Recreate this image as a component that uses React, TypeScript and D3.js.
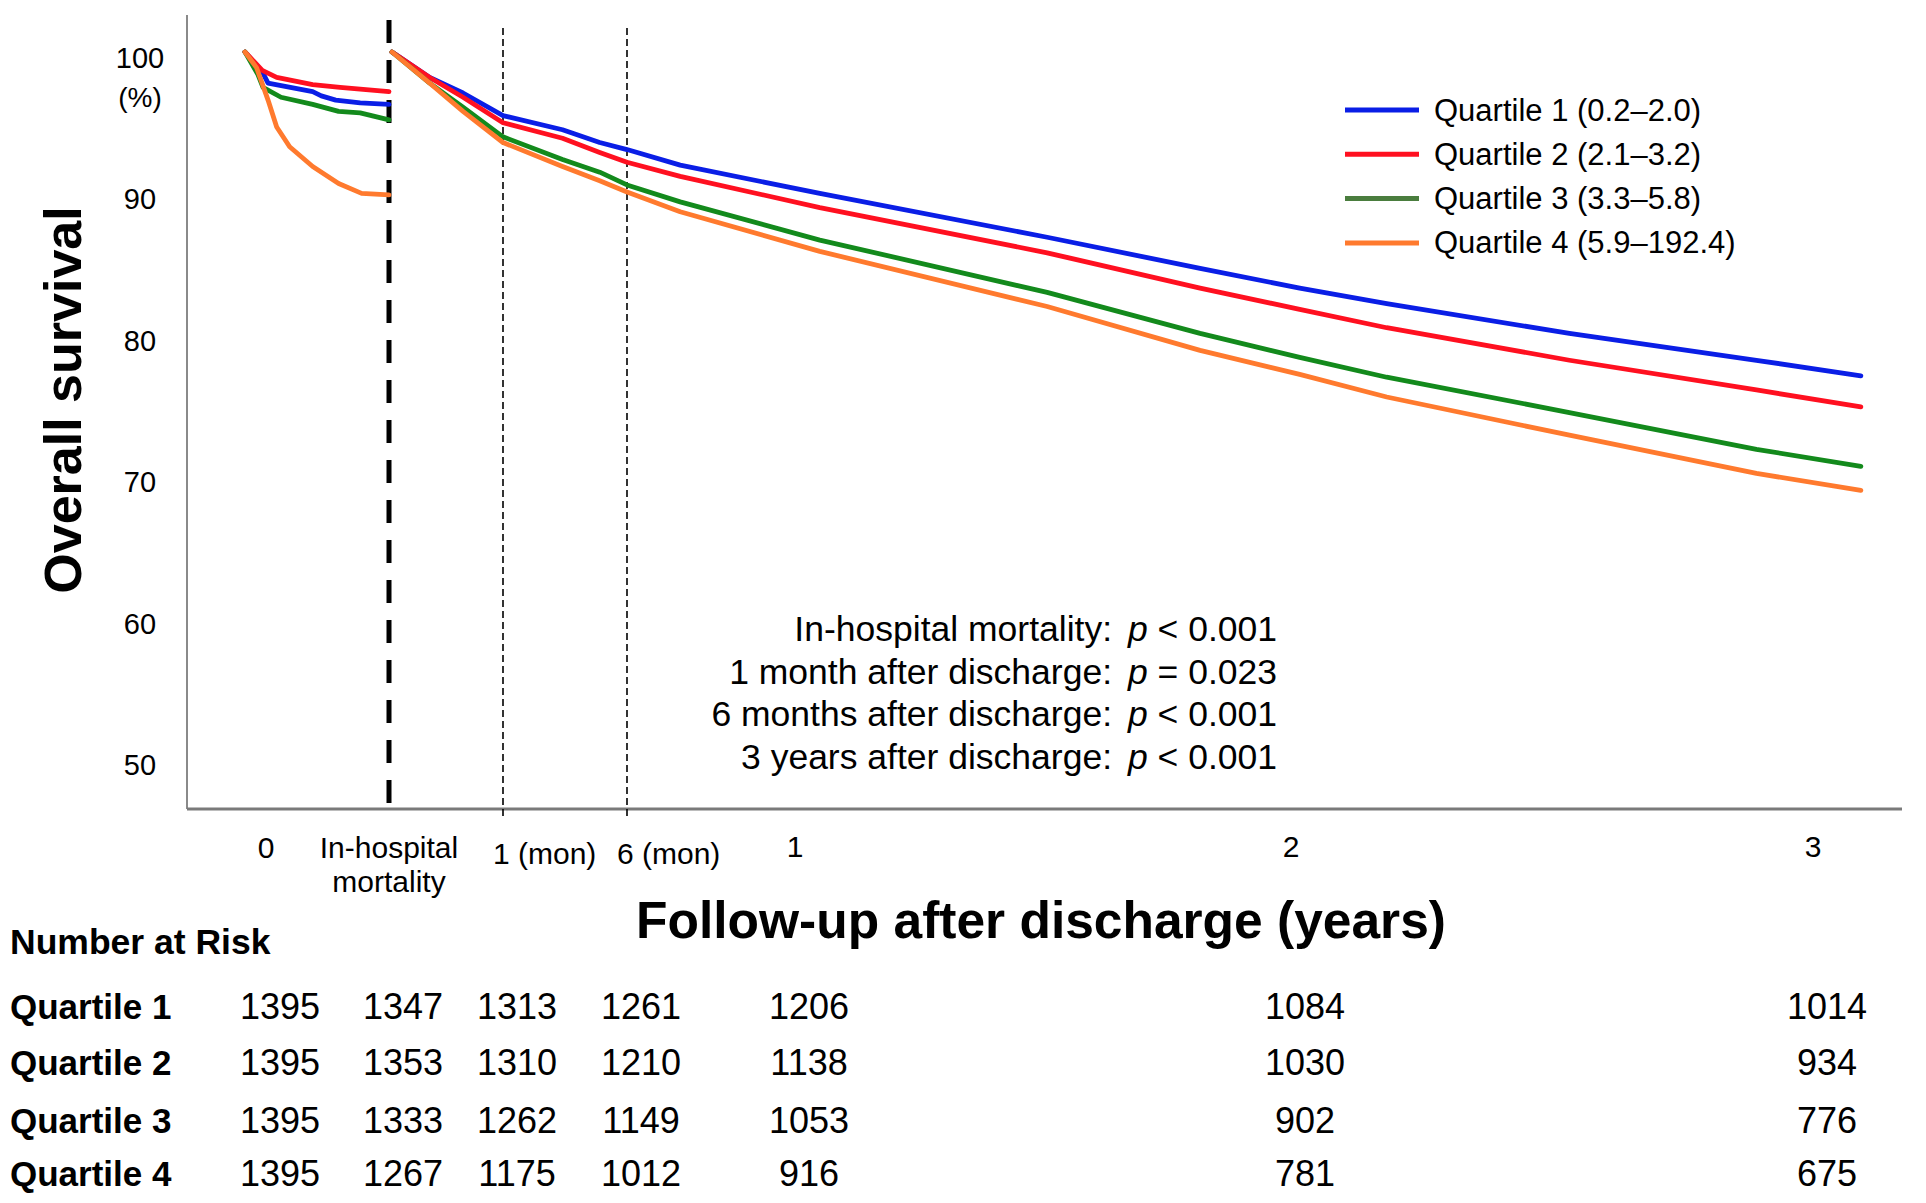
import { useEffect } from "react";
import * as d3 from "d3";

const W = 1926;
const H = 1203;
const FONT = '"Liberation Sans", Arial, Helvetica, sans-serif';

// series
const legendLabels = [
  "Quartile 1 (0.2–2.0)",
  "Quartile 2 (2.1–3.2)",
  "Quartile 3 (3.3–5.8)",
  "Quartile 4 (5.9–192.4)",
];
const rowLabels = ["Quartile 1", "Quartile 2", "Quartile 3", "Quartile 4"];
const colors = ["#0a1ee6", "#ff1020", "#138a1c", "#ff7a2e"];
const legendColors = ["#0a1ee6", "#ff1020", "#4a7d3e", "#ff7a2e"];

const yTicks = [100, 90, 80, 70, 60, 50];

// in-hospital period, t = fraction of stay (0 = admission, 1 = discharge)
const q1InHosp: [number, number][] = [[0, 100], [0.12, 98.6], [0.16, 97.8], [0.47, 97.2], [0.53, 96.9], [0.63, 96.6], [0.8, 96.4], [1, 96.3]];
const q2InHosp: [number, number][] = [[0, 100], [0.12, 98.7], [0.22, 98.2], [0.47, 97.7], [0.66, 97.5], [1, 97.2]];
const q3InHosp: [number, number][] = [[0, 100], [0.09, 98.4], [0.125, 97.5], [0.25, 96.8], [0.47, 96.3], [0.65, 95.8], [0.8, 95.7], [1, 95.2]];
const q4InHosp: [number, number][] = [[0, 100], [0.08, 98.9], [0.16, 96.6], [0.22, 94.7], [0.31, 93.3], [0.47, 91.9], [0.65, 90.7], [0.81, 90.0], [1, 89.9]];

// after discharge, months
const fuMonths = [0, 0.34, 0.64, 1, 3.4, 4.9, 6, 7.9, 12.6, 18.1, 21.8, 24.2, 26.2, 30.4, 34.7, 37.1];
const q1Fu = [100, 98.2, 97.1, 95.5, 94.5, 93.6, 93.1, 92.0, 90.0, 86.9, 84.7, 83.3, 82.2, 80.1, 78.2, 77.1];
const q2Fu = [100, 98.2, 96.8, 95.0, 93.9, 92.9, 92.2, 91.2, 89.0, 85.8, 83.3, 81.8, 80.5, 78.2, 76.1, 74.9];
const q3Fu = [100, 97.8, 96.1, 94.0, 92.4, 91.5, 90.6, 89.4, 86.7, 83.0, 80.1, 78.4, 77.0, 74.5, 71.9, 70.7];
const q4Fu = [100, 97.8, 95.8, 93.6, 91.9, 90.9, 90.1, 88.7, 85.9, 82.0, 78.9, 77.2, 75.6, 72.9, 70.2, 69.0];

// number at risk
const riskQ1 = [1395, 1347, 1313, 1261, 1206, 1084, 1014];
const riskQ2 = [1395, 1353, 1310, 1210, 1138, 1030, 934];
const riskQ3 = [1395, 1333, 1262, 1149, 1053, 902, 776];
const riskQ4 = [1395, 1267, 1175, 1012, 916, 781, 675];

const pLabels = [
  "In-hospital mortality:",
  "1 month after discharge:",
  "6 months after discharge:",
  "3 years after discharge:",
];
const pValues = ["< 0.001", "= 0.023", "< 0.001", "< 0.001"];

const yearTicks = [12, 24, 36];
const monthTicks = [1, 6];

export default function App() {
  useEffect(() => {
    document.body.style.margin = "0";
    document.body.style.overflow = "hidden";
  }, []);

  const plotLeft = 187;
  const plotTop = 15;
  const plotBottom = 809;
  const plotRight = 1902;

  const y = d3.scaleLinear().domain([50, 100]).range([759, 52]);
  const xIn = d3.scaleLinear().domain([0, 1]).range([245, 389]);
  const xFu = d3.scaleLinear().domain([0, 1, 6, 12, 24, 36]).range([392, 503, 627, 795, 1291, 1813]);

  const inLine = d3.line<[number, number]>().x((d) => xIn(d[0])).y((d) => y(d[1]));
  const fuLine = d3.line<number>().x((_, i) => xFu(fuMonths[i])).y((d) => y(d));

  const inHosp = [q1InHosp, q2InHosp, q3InHosp, q4InHosp];
  const followUp = [q1Fu, q2Fu, q3Fu, q4Fu];
  const risk = [riskQ1, riskQ2, riskQ3, riskQ4];

  // anchors for the at-risk columns: admission, discharge, 1 mo, 6 mo, 1 y, 2 y, 3 y
  const zeroX = xIn(0) + 21;
  const colAnchors = [zeroX, xIn(1), xFu(1), xFu(6), xFu(12), xFu(24), xFu(36)];
  const rowY = [1006, 1062, 1120, 1173];

  return (
    <svg
      width={W}
      height={H}
      viewBox={`0 0 ${W} ${H}`}
      style={{ position: "absolute", left: 0, top: 0, background: "#fff" }}
      fontFamily={FONT}
    >
      <rect width={W} height={H} fill="#fff" />

      {/* axes */}
      <line x1={plotLeft} x2={plotLeft} y1={plotTop} y2={plotBottom} stroke="#8a8a8a" strokeWidth={2} />
      <line x1={plotLeft} x2={plotRight} y1={plotBottom} y2={plotBottom} stroke="#7a7a7a" strokeWidth={3} />

      {/* y tick labels */}
      {yTicks.map((t) => (
        <text key={t} x={140} y={y(t) + 6} textAnchor="middle" dominantBaseline="central" fontSize={29} fill="#000">
          {t}
        </text>
      ))}
      <text x={140} y={97} textAnchor="middle" dominantBaseline="central" fontSize={28} fill="#000">
        (%)
      </text>

      <text
        transform={`translate(81,400) rotate(-90)`}
        textAnchor="middle"
        fontSize={52}
        fontWeight="bold"
        fill="#000"
      >
        Overall survival
      </text>

      {/* discharge divider and landmark lines */}
      <line x1={xIn(1)} x2={xIn(1)} y1={20} y2={plotBottom} stroke="#000" strokeWidth={5} strokeDasharray="23 17" />
      {monthTicks.map((m) => (
        <line key={m} x1={xFu(m)} x2={xFu(m)} y1={28} y2={818} stroke="#000" strokeWidth={1.6} strokeDasharray="7 4" />
      ))}

      {/* curves */}
      {inHosp.map((s, i) => (
        <path key={`in${i}`} d={inLine(s) || ""} fill="none" stroke={colors[i]} strokeWidth={4.8} strokeLinejoin="round" strokeLinecap="round" />
      ))}
      {followUp.map((s, i) => (
        <path key={`fu${i}`} d={fuLine(s) || ""} fill="none" stroke={colors[i]} strokeWidth={4.8} strokeLinejoin="round" strokeLinecap="round" />
      ))}

      {/* legend */}
      {legendLabels.map((l, i) => (
        <g key={l} transform={`translate(1345,${110 + i * 44.3})`}>
          <line x1={0} x2={74} y1={0} y2={0} stroke={legendColors[i]} strokeWidth={5} />
          <text x={89} y={0} dominantBaseline="central" fontSize={31} fill="#000">
            {l}
          </text>
        </g>
      ))}

      {/* p-values */}
      {pLabels.map((l, i) => (
        <g key={l}>
          <text x={1112} y={629 + i * 42.5} textAnchor="end" dominantBaseline="central" fontSize={35.5} fill="#000">
            {l}
          </text>
          <text x={1128} y={629 + i * 42.5} dominantBaseline="central" fontSize={35.5} fill="#000">
            <tspan fontStyle="italic">p</tspan>
            {" " + pValues[i]}
          </text>
        </g>
      ))}

      {/* x tick labels */}
      <text x={zeroX} y={847} textAnchor="middle" dominantBaseline="central" fontSize={30}>0</text>
      <text x={xIn(1)} y={847} textAnchor="middle" dominantBaseline="central" fontSize={30}>In-hospital</text>
      <text x={xIn(1)} y={881} textAnchor="middle" dominantBaseline="central" fontSize={30}>mortality</text>
      {monthTicks.map((m) => (
        <text key={m} x={xFu(m) - 10} y={853} dominantBaseline="central" fontSize={30}>
          {`${m} (mon)`}
        </text>
      ))}
      {yearTicks.map((m) => (
        <text key={m} x={xFu(m)} y={846} textAnchor="middle" dominantBaseline="central" fontSize={30}>
          {m / 12}
        </text>
      ))}

      <text x={1041} y={938} textAnchor="middle" fontSize={51.5} fontWeight="bold">
        Follow-up after discharge (years)
      </text>

      {/* number at risk */}
      <text x={10} y={942} dominantBaseline="central" fontSize={35.5} fontWeight="bold">
        Number at Risk
      </text>
      {rowLabels.map((r, i) => (
        <g key={r}>
          <text x={10} y={rowY[i]} dominantBaseline="central" fontSize={35} fontWeight="bold">
            {r}
          </text>
          {risk[i].map((v, j) => (
            <text key={j} x={colAnchors[j] + 14} y={rowY[i]} textAnchor="middle" dominantBaseline="central" fontSize={36}>
              {v}
            </text>
          ))}
        </g>
      ))}
    </svg>
  );
}
